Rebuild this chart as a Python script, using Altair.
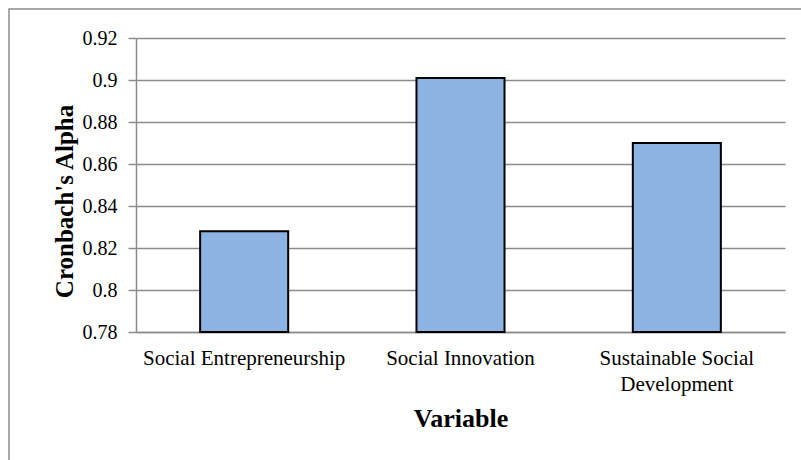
import altair as alt
import pandas as pd

# Reliability of each construct
variables = ["Social Entrepreneurship", "Social Innovation", "Sustainable Social Development"]
alpha = [0.828, 0.901, 0.870]

# Value axis
y_ticks = [0.78, 0.80, 0.82, 0.84, 0.86, 0.88, 0.90, 0.92]

df = pd.DataFrame({"variable": variables, "alpha": alpha, "base": y_ticks[0]})

grey = "#8c8c8c"
font = "Liberation Serif"

PLOT_W, PLOT_H = 649, 294
LEFT, TOP = 136, 38

bars = alt.Chart(df).mark_bar(
    fill="#8DB3E2", stroke="black", strokeWidth=2
).encode(
    x=alt.X(
        "variable:N",
        sort=variables,
        scale=alt.Scale(paddingInner=0.593, paddingOuter=0.2965),
        axis=alt.Axis(
            title="Variable",
            titleFont=font,
            titleFontSize=26,
            titleFontWeight="bold",
            titleColor="black",
            titleBaseline="alphabetic",
            titleY=94,
            labelFont=font,
            labelFontSize=21,
            labelColor="black",
            labelAngle=0,
            labelPadding=15,
            labelLineHeight=26,
            labelLimit=0,
            labelExpr="datum.label == 'Sustainable Social Development' ? ['Sustainable Social', 'Development'] : datum.label",
            ticks=False,
            tickSize=0,
            domainColor=grey,
            domainWidth=1.5,
            grid=False,
        ),
    ),
    y=alt.Y(
        "alpha:Q",
        scale=alt.Scale(domain=[y_ticks[0], y_ticks[-1]], zero=False, nice=False),
        axis=alt.Axis(
            title="Cronbach's Alpha",
            titleFont=font,
            titleFontSize=25,
            titleFontWeight="bold",
            titleColor="black",
            titleAngle=270,
            titleBaseline="alphabetic",
            titleAlign="center",
            titleX=-64,
            titleY=PLOT_H / 2 + 16,
            values=y_ticks,
            labelExpr="format(datum.value, '~g')",
            labelFont=font,
            labelFontSize=20,
            labelColor="black",
            labelPadding=11,
            tickSize=8,
            tickColor=grey,
            tickWidth=1.5,
            domainColor=grey,
            domainWidth=1.5,
            grid=True,
            gridColor=grey,
            gridWidth=1.5,
        ),
    ),
    y2="base:Q",
)

# Frame around the whole figure
frame = alt.Chart(pd.DataFrame({"k": [0]})).mark_rect(
    fillOpacity=0, stroke=grey, strokeWidth=1.5, clip=False
).encode(
    x=alt.value(9 - LEFT),
    x2=alt.value(PLOT_W + 40),
    y=alt.value(9 - TOP),
    y2=alt.value(PLOT_H + 160),
)

chart = alt.layer(frame, bars).properties(
    width=PLOT_W,
    height=PLOT_H,
    autosize=alt.AutoSizeParams(type="none"),
    padding={"left": LEFT, "top": TOP, "right": 801 - LEFT - PLOT_W, "bottom": 460 - TOP - PLOT_H},
    background="white",
).configure_view(strokeOpacity=0)

chart.save("out.html", embed_options={"renderer": "svg", "actions": False})
